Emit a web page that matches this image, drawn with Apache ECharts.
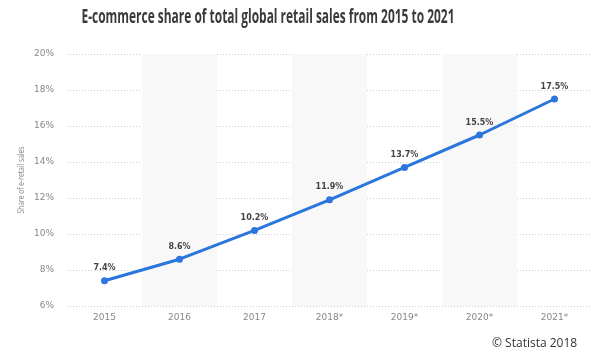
<!DOCTYPE html>
<html><head><meta charset="utf-8">
<script src="https://cdn.jsdelivr.net/npm/echarts@6/dist/echarts.min.js"></script>
<style>html,body{margin:0;padding:0;background:#fff}#c{width:602px;height:360px}</style>
</head><body><div id="c"></div>
<script>
const categories = ['2015','2016','2017','2018*','2019*','2020*','2021*'];
const shareValues = [7.4, 8.6, 10.2, 11.9, 13.7, 15.5, 17.5];
const yTicks = {min: 6, max: 20, interval: 2};
const titleText = 'E-commerce share of total global retail sales from 2015 to 2021';
const yName = 'Share of e-retail sales';

function measure(text, font) {
  const t = new echarts.graphic.Text({style: {text: text, font: font}});
  return t.getBoundingRect().width;
}
const titleFont = 'bold 19px "Open Sans"';
const titleScale = 373 / measure(titleText, titleFont);
const yNameFont = '9px "Open Sans"';
const yNameScale = 67 / measure(yName, yNameFont);

const chart = echarts.init(document.getElementById('c'), null, {renderer: 'canvas'});
chart.setOption({
  animation: false,
  backgroundColor: '#fff',
  title: [{
    text: '© Statista 2018',
    left: 487, top: 333,
    textStyle: {fontFamily: 'Open Sans', fontWeight: 'normal', fontSize: 12, color: '#333'}
  }],
  graphic: [{
    type: 'text', x: 268, y: 18, scaleX: titleScale,
    style: {text: titleText, font: titleFont, fill: '#3a3a3a', align: 'center', verticalAlign: 'middle'}
  }, {
    type: 'text', x: 21, y: 180, rotation: Math.PI / 2, scaleX: yNameScale,
    style: {text: yName, font: yNameFont, fill: '#888', align: 'center', verticalAlign: 'middle'}
  }],
  grid: {left: 67, right: 10, top: 54, bottom: 54},
  xAxis: {
    type: 'category', data: categories, boundaryGap: true,
    axisLine: {show: false}, axisTick: {show: false},
    axisLabel: {color: '#888', fontSize: 9, fontFamily: 'DejaVu Sans', margin: 7},
    splitArea: {show: true, areaStyle: {color: ['rgba(255,255,255,0)', '#f8f8f8']}}
  },
  yAxis: {
    type: 'value', min: yTicks.min, max: yTicks.max, interval: yTicks.interval,
    axisLine: {show: false}, axisTick: {show: false},
    axisLabel: {color: '#888', fontSize: 9, fontFamily: 'DejaVu Sans', formatter: '{value}%', margin: 13},
    splitLine: {lineStyle: {color: '#ccc', type: [1, 2], width: 1}}
  },
  series: [{
    type: 'line', data: shareValues,
    lineStyle: {color: '#2a76dd', width: 3},
    itemStyle: {color: '#2a76dd'},
    symbol: 'circle', symbolSize: 7,
    label: {show: true, position: 'top', distance: 5, formatter: p => p.value + '%',
      color: '#444', fontSize: 8, fontWeight: 'bold', fontFamily: 'DejaVu Sans'}
  }]
});
</script></body></html>
